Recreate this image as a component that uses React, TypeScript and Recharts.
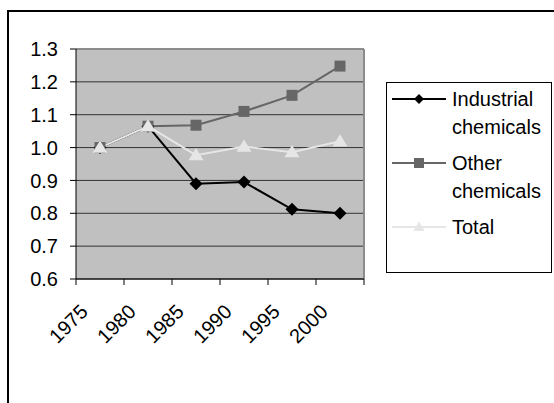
import {
  LineChart,
  Line,
  XAxis,
  YAxis,
  CartesianGrid,
  Legend,
  ReferenceLine,
} from "recharts";

const categories = ["1975", "1980", "1985", "1990", "1995", "2000"];
const industrialChemicals = [1.0, 1.065, 0.89, 0.895, 0.812, 0.8];
const otherChemicals = [1.0, 1.065, 1.068, 1.11, 1.159, 1.248];
const totalChemicals = [1.0, 1.065, 0.977, 1.003, 0.986, 1.019];
const yTicks = [0.6, 0.7, 0.8, 0.9, 1.0, 1.1, 1.2, 1.3];
const xTicks = [0, 1, 2, 3, 4, 5, 6];

const font = "'Liberation Sans', Arial, sans-serif";

type Marker = "diamond" | "square" | "triangle";

const series: { key: string; name: string; color: string; marker: Marker }[] = [
  { key: "industrial", name: "Industrial chemicals", color: "#000000", marker: "diamond" },
  { key: "other", name: "Other chemicals", color: "#666666", marker: "square" },
  { key: "total", name: "Total", color: "#E6E6E6", marker: "triangle" },
];

// x sits in the middle of each category slot, ticks on the slot edges (Excel style)
const data = categories.map((year, i) => ({
  x: i + 0.5,
  year,
  industrial: industrialChemicals[i],
  other: otherChemicals[i],
  total: totalChemicals[i],
}));

function markerPath(kind: Marker, cx: number, cy: number, s: number) {
  if (kind === "diamond")
    return `M${cx},${cy - s}L${cx + s},${cy}L${cx},${cy + s}L${cx - s},${cy}Z`;
  if (kind === "square")
    return `M${cx - s},${cy - s}h${2 * s}v${2 * s}h${-2 * s}Z`;
  return `M${cx},${cy - s * 1.1}L${cx + s * 1.15},${cy + s * 0.8}L${cx - s * 1.15},${cy + s * 0.8}Z`;
}

const markerSize: Record<Marker, number> = { diamond: 6.5, square: 5.5, triangle: 6.5 };

function makeDot(kind: Marker, color: string) {
  return (props: any) => {
    const { cx, cy, index } = props;
    if (cx == null || cy == null) return <g key={`${kind}-${index}`} />;
    return (
      <path
        key={`${kind}-${index}`}
        d={markerPath(kind, cx, cy, markerSize[kind])}
        fill={color}
        stroke="none"
      />
    );
  };
}

function YearTick(props: any) {
  const { x, y, payload } = props;
  const label = categories[payload.value];
  if (!label) return <g />;
  const ax = x + 13;
  const ay = y + 26;
  return (
    <text
      x={ax}
      y={ay}
      transform={`rotate(-45, ${ax}, ${ay})`}
      textAnchor="end"
      fontSize={20}
      fontFamily={font}
      fill="#000"
    >
      {label}
    </text>
  );
}

function LegendBox() {
  return (
    <div
      style={{
        width: 166,
        height: 191,
        border: "1px solid #000",
        boxSizing: "border-box",
        background: "#fff",
        paddingTop: 2,
        fontFamily: font,
        fontSize: 20,
        lineHeight: "28px",
        color: "#000",
      }}
    >
      {series.map((s, i) => (
        <div
          key={s.key}
          style={{ display: "flex", alignItems: "flex-start", marginTop: i ? 8 : 0 }}
        >
          <svg width={60} height={28} style={{ flex: "none", marginLeft: 5 }}>
            <line x1={0} y1={14} x2={54} y2={14} stroke={s.color} strokeWidth={2} />
            <path d={markerPath(s.marker, 27, 14, 5)} fill={s.color} />
          </svg>
          <div style={{ width: 98 }}>{s.name}</div>
        </div>
      ))}
    </div>
  );
}

export default function App() {
  return (
    <div
      style={{
        position: "fixed",
        left: 0,
        top: 0,
        width: 554,
        height: 403,
        overflow: "hidden",
        background: "#fff",
      }}
    >
      <div
        style={{
          position: "absolute",
          left: 7,
          top: 10,
          width: 700,
          height: 600,
          border: "2px solid #000",
        }}
      />
      <div style={{ position: "absolute", left: 0, top: 0 }}>
        <LineChart
          width={554}
          height={403}
          data={data}
          margin={{ top: 49, right: 190, bottom: 64, left: 0 }}
        >
          <CartesianGrid vertical={false} stroke="#333333" fill="#C0C0C0" />
          <XAxis
            type="number"
            dataKey="x"
            domain={[0, 6]}
            ticks={xTicks}
            interval={0}
            height={60}
            stroke="#000"
            tickSize={6}
            tick={<YearTick />}
          />
          <YAxis
            domain={[0.6, 1.3]}
            ticks={yTicks}
            interval={0}
            width={76}
            stroke="#000"
            tickSize={6}
            tickMargin={12}
            tickFormatter={(v: number) => v.toFixed(1)}
            tick={{ fontSize: 20, fontFamily: font, fill: "#000" }}
          />
          <ReferenceLine y={1.3} stroke="#8C8C8C" strokeWidth={2} />
          <ReferenceLine x={6} stroke="#8C8C8C" strokeWidth={2} />
          <Legend
            layout="vertical"
            align="center"
            verticalAlign="middle"
            wrapperStyle={{ left: 386, top: 82, width: 166 }}
            content={() => <LegendBox />}
          />
          {series.map((s) => (
            <Line
              key={s.key}
              type="linear"
              dataKey={s.key}
              name={s.name}
              stroke={s.color}
              strokeWidth={2}
              dot={makeDot(s.marker, s.color)}
              activeDot={false}
              isAnimationActive={false}
            />
          ))}
        </LineChart>
      </div>
    </div>
  );
}
